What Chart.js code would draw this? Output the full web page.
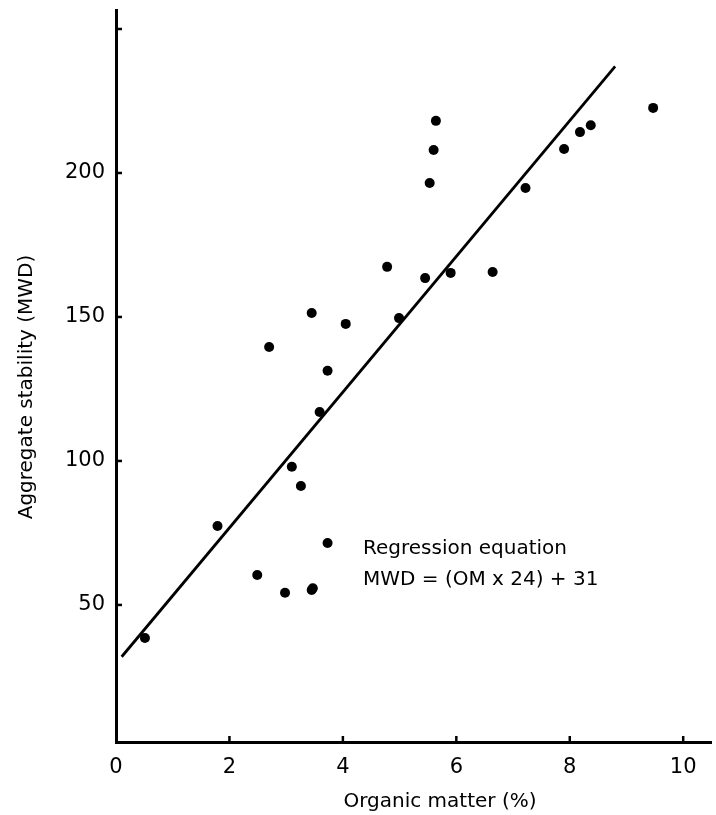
<!DOCTYPE html>
<html>
<head>
<meta charset="utf-8">
<script src="https://cdn.jsdelivr.net/npm/chart.js@4"></script>
<style>
  html, body { margin: 0; padding: 0; background: #fff; }
  #wrap { width: 716px; height: 815px; }
</style>
</head>
<body>
<div id="wrap"><canvas id="grafico" width="716" height="815"></canvas></div>
<script>
// Organic matter (%) vs aggregate stability (MWD)
const organicMatter = [0.51, 1.79, 2.49, 2.98, 3.45, 3.47, 3.73, 3.26, 3.10, 3.59,
  2.70, 3.45, 4.05, 3.73, 5.64, 5.60, 5.53, 4.78, 5.45, 5.90,
  6.64, 4.99, 7.22, 7.90, 8.18, 8.37, 9.47];
const stability = [38.5, 77.4, 60.4, 54.2, 55.2, 55.8, 71.5, 91.3, 98.0, 117.0,
  139.6, 151.4, 147.6, 131.3, 218.1, 208.0, 196.5, 167.4, 163.5, 165.3,
  165.6, 149.6, 194.8, 208.3, 214.2, 216.6, 222.6];

// regression line ends as drawn
const lineaX = [0.1, 8.8];
const lineaY = [32, 237];

const xTicks = [0, 2, 4, 6, 8, 10];
const yTicks = [50, 100, 150, 200, 250];
const yLabels = [50, 100, 150, 200];

const tituloX = 'Organic matter (%)';
const tituloY = 'Aggregate stability (MWD)';
const equacao = ['Regression equation', 'MWD = (OM x 24) + 31'];

const FONTE = '"DejaVu Sans", sans-serif';

const pontos = organicMatter.map((x, i) => ({ x, y: stability[i] }));
const linha = lineaX.map((x, i) => ({ x, y: lineaY[i] }));

// inward tick marks, axis titles and the equation text
const extras = {
  id: 'extras',
  afterDraw(chart) {
    const { ctx, scales: { x, y } } = chart;
    ctx.save();
    ctx.strokeStyle = '#000';
    ctx.lineWidth = 2.5;
    xTicks.forEach(v => {
      if (v === 0) return;
      const px = x.getPixelForValue(v);
      ctx.beginPath();
      ctx.moveTo(px, y.bottom);
      ctx.lineTo(px, y.bottom - 6);
      ctx.stroke();
    });
    yTicks.forEach(v => {
      const py = y.getPixelForValue(v);
      ctx.beginPath();
      ctx.moveTo(x.left, py);
      ctx.lineTo(x.left + 6, py);
      ctx.stroke();
    });

    ctx.fillStyle = '#000';
    ctx.font = '20px ' + FONTE;
    ctx.textAlign = 'center';
    ctx.textBaseline = 'middle';
    ctx.fillText(tituloX, 440, 802);

    ctx.save();
    ctx.translate(27, 387);
    ctx.rotate(-Math.PI / 2);
    ctx.fillText(tituloY, 0, 0);
    ctx.restore();

    ctx.font = '20px ' + FONTE;
    ctx.textAlign = 'left';
    ctx.fillText(equacao[0], 363, 549);
    ctx.fillText(equacao[1], 363, 580);
    ctx.restore();
  }
};

new Chart(document.getElementById('grafico'), {
  type: 'scatter',
  data: {
    datasets: [
      {
        label: 'Amostras',
        data: pontos,
        pointRadius: 5,
        pointBackgroundColor: '#000',
        pointBorderColor: '#000',
        pointBorderWidth: 0
      },
      {
        type: 'line',
        label: 'Regressão',
        data: linha,
        borderColor: '#000',
        borderWidth: 2.8,
        pointRadius: 0,
        fill: false
      }
    ]
  },
  options: {
    responsive: false,
    animation: false,
    devicePixelRatio: 1,
    layout: { padding: { top: 10, right: 1, left: 0, bottom: 0 } },
    plugins: {
      legend: { display: false },
      tooltip: { enabled: false }
    },
    scales: {
      x: {
        type: 'linear',
        min: 0,
        max: 10.49,
        afterBuildTicks: (s) => { s.ticks = xTicks.map(v => ({ value: v })); },
        afterFit: (s) => { s.height = 73; s.paddingLeft = 0; s.paddingRight = 0; },
        grid: { display: false, drawTicks: false },
        border: { display: true, color: '#000', width: 3 },
        ticks: {
          color: '#000',
          padding: 13,
          font: { family: FONTE, size: 21 }
        }
      },
      y: {
        type: 'linear',
        min: 2.4,
        max: 256.6,
        afterBuildTicks: (s) => { s.ticks = yTicks.map(v => ({ value: v })); },
        afterFit: (s) => { s.width = 116; s.paddingTop = 0; s.paddingBottom = 0; },
        grid: { display: false, drawTicks: false },
        border: { display: true, color: '#000', width: 3 },
        ticks: {
          color: '#000',
          padding: 11,
          font: { family: FONTE, size: 21 },
          callback: (v) => yLabels.includes(v) ? String(v) : ''
        }
      }
    }
  },
  plugins: [extras]
});
</script>
</body>
</html>
